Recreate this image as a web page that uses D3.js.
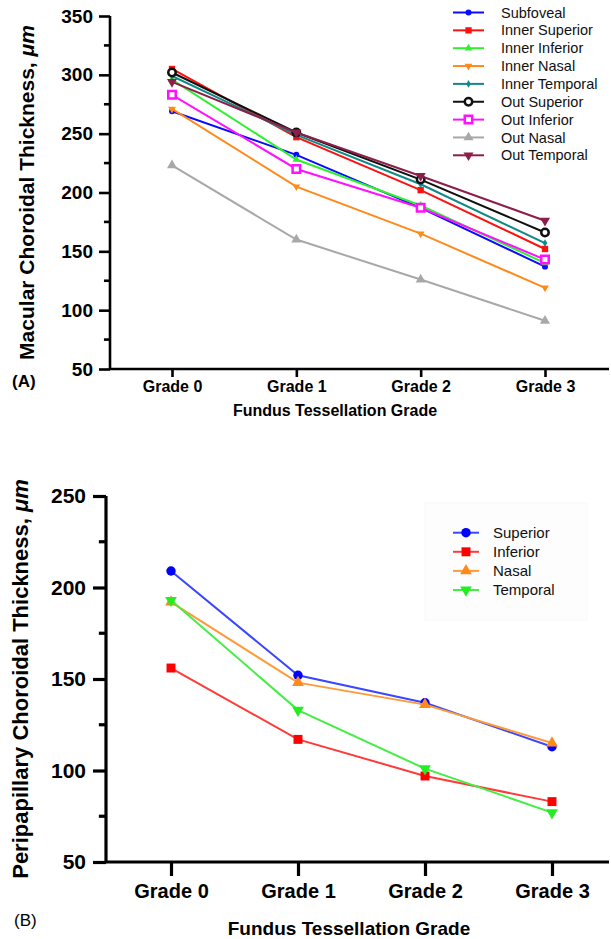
<!DOCTYPE html>
<html>
<head>
<meta charset="utf-8">
<script src="https://cdn.jsdelivr.net/npm/d3@7"></script>
<style>
  body { margin: 0; background: #fff; }
  svg { display: block; font-family: "Liberation Sans", Arial, sans-serif; }
</style>
</head>
<body>
<svg id="chart" width="611" height="939"></svg>
<script>
// x categories
const grades = ["Grade 0", "Grade 1", "Grade 2", "Grade 3"];

// panel A: macular choroidal thickness (um)
const macularNames = ["Subfoveal", "Inner Superior", "Inner Inferior", "Inner Nasal", "Inner Temporal",
                      "Out Superior", "Out Inferior", "Out Nasal", "Out Temporal"];
const subfoveal     = [269, 232, 187, 137];
const innerSuperior = [305, 247, 202, 152];
const innerInferior = [296, 228, 189, 140];
const innerNasal    = [271, 205, 165, 119];
const innerTemporal = [299, 249, 207, 157];
const outSuperior   = [302, 251, 211, 166];
const outInferior   = [283, 220, 187, 143];
const outNasal      = [223, 160, 126, 91];
const outTemporal   = [294, 251, 214, 176];
const macularTicks  = [50, 100, 150, 200, 250, 300, 350];

// panel B: peripapillary choroidal thickness (um)
const periNames   = ["Superior", "Inferior", "Nasal", "Temporal"];
const superior    = [209, 152, 137, 113];
const inferior    = [156, 117, 97, 83];
const nasal       = [192, 148, 136, 115];
const temporal    = [193, 133, 101, 77];
const periTicks   = [50, 100, 150, 200, 250];

let svg = d3.select("#chart");

// marker styles per series
let macularStyle = [
    {color: "#0a0aff", shape: "circle", size: 28, fill: true},
    {color: "#ff1010", shape: "square", size: 40, fill: true},
    {color: "#2ef02e", shape: "up", size: 26, fill: true},
    {color: "#ff8a1c", shape: "down", size: 26, fill: true},
    {color: "#108a88", shape: "diamond", size: 18, fill: true},
    {color: "#101010", shape: "circle", size: 44, fill: false},
    {color: "#ff10ff", shape: "square", size: 56, fill: false},
    {color: "#a8a8a8", shape: "up", size: 44, fill: true},
    {color: "#8c1e4a", shape: "down", size: 44, fill: true}
];
let periStyle = [
    {color: "#0000ff", line: "#3a46ff", shape: "circle", size: 70, fill: true},
    {color: "#ff0000", line: "#ff3a3a", shape: "square", size: 80, fill: true},
    {color: "#ff8a1c", line: "#ff9a3a", shape: "up", size: 60, fill: true},
    {color: "#22ee22", line: "#44ee44", shape: "down", size: 60, fill: true}
];

function symbolPath(st) {
    let type = d3.symbolCircle;
    if (st.shape === "square") type = d3.symbolSquare;
    if (st.shape === "up" || st.shape === "down") type = d3.symbolTriangle;
    if (st.shape === "diamond") type = d3.symbolDiamond;
    return d3.symbol().type(type).size(st.size)();
}

function addMarker(g, st, x, y) {
    let p = g.append("path")
        .attr("d", symbolPath(st))
        .attr("transform", "translate(" + x + "," + y + ")" + (st.shape === "down" ? " rotate(180)" : ""));
    if (st.fill) {
        p.attr("fill", st.color);
    } else {
        p.attr("fill", "#fff").attr("stroke", st.color).attr("stroke-width", 2.5);
    }
}

function drawPanel(opt) {
    let x = d3.scalePoint().domain(grades).range([opt.x0, opt.x1]);
    let y = d3.scaleLinear().domain([opt.ticks[0], opt.ticks[opt.ticks.length - 1]]).range([opt.yBottom, opt.yTop]);

    let g = svg.append("g");

    // series lines + markers
    opt.series.forEach(function(vals, i) {
        let st = opt.styles[i];
        let line = d3.line()
            .x(function(d, j) { return x(grades[j]); })
            .y(function(d) { return y(d); });
        g.append("path")
            .attr("d", line(vals))
            .attr("fill", "none")
            .attr("stroke", st.line || st.color)
            .attr("stroke-width", opt.lineWidth);
        vals.forEach(function(v, j) {
            addMarker(g, st, x(grades[j]), y(v));
        });
    });

    // y axis, with minor ticks half way between majors
    let minor = [];
    for (let i = 0; i < opt.ticks.length - 1; i++) minor.push((opt.ticks[i] + opt.ticks[i + 1]) / 2);
    let yAxis = g.append("g")
        .attr("transform", "translate(" + opt.axisX + ",0)")
        .call(d3.axisLeft(y).tickValues(opt.ticks).tickSize(opt.yTick).tickPadding(opt.yPad).tickSizeOuter(0));
    minor.forEach(function(m) {
        yAxis.append("line").attr("x1", -opt.yTick * 0.55).attr("x2", 0).attr("y1", y(m)).attr("y2", y(m))
            .attr("stroke", "#000").attr("stroke-width", opt.axisWidth);
    });

    // x axis
    let xAxis = g.append("g")
        .attr("transform", "translate(0," + opt.yBottom + ")")
        .call(d3.axisBottom(x).tickSize(opt.xTick).tickPadding(opt.xPad).tickSizeOuter(0));

    [yAxis, xAxis].forEach(function(a) {
        a.select(".domain").attr("stroke", "#000").attr("stroke-width", opt.axisWidth);
        a.selectAll(".tick line").attr("stroke", "#000").attr("stroke-width", opt.axisWidth);
        a.selectAll(".tick text")
            .attr("fill", "#000")
            .style("font-family", "'Liberation Sans', Arial, sans-serif")
            .style("font-weight", "bold");
    });
    xAxis.select(".domain").attr("d", "M" + opt.axisX + ",0H" + opt.axisEnd);
    yAxis.select(".domain").attr("d", "M0," + opt.yBottom + "V" + opt.yTop);
    yAxis.selectAll(".tick text").style("font-size", opt.yTickFont + "px");
    xAxis.selectAll(".tick text").style("font-size", opt.xTickFont + "px");

    // axis titles
    let yt = g.append("text")
        .attr("transform", "translate(" + opt.yTitleX + "," + ((opt.yTop + opt.yBottom) / 2) + ") rotate(-90)")
        .attr("text-anchor", "middle")
        .style("font-size", opt.yTitleFont + "px")
        .style("font-weight", "bold");
    yt.append("tspan").text(opt.yTitle);
    yt.append("tspan").style("font-style", "italic").text("\u03bcm");

    g.append("text")
        .attr("x", opt.xTitleX)
        .attr("y", opt.xTitleY)
        .attr("text-anchor", "middle")
        .style("font-size", opt.xTitleFont + "px")
        .style("font-weight", "bold")
        .text("Fundus Tessellation Grade");

    g.append("text")
        .attr("x", opt.tagX)
        .attr("y", opt.tagY)
        .style("font-size", "17px")
        .style("font-weight", opt.tagBold ? "bold" : "normal")
        .text(opt.tag);

    // legend
    let lg = g.append("g");
    if (opt.legendBox) {
        lg.append("rect")
            .attr("x", opt.legendBox[0]).attr("y", opt.legendBox[1])
            .attr("width", opt.legendBox[2]).attr("height", opt.legendBox[3])
            .attr("fill", "#fdfdfd").attr("stroke", "#f8f8f8");
    }
    opt.names.forEach(function(name, i) {
        let st = opt.styles[i];
        let ly = opt.legendY + i * opt.legendStep;
        lg.append("line")
            .attr("x1", opt.legendX0).attr("x2", opt.legendX1)
            .attr("y1", ly).attr("y2", ly)
            .attr("stroke", st.line || st.color).attr("stroke-width", 2);
        addMarker(lg, st, (opt.legendX0 + opt.legendX1) / 2, ly);
        lg.append("text")
            .attr("x", opt.legendText)
            .attr("y", ly)
            .attr("dy", "0.35em")
            .style("font-size", opt.legendFont + "px")
            .attr("fill", "#111")
            .text(name);
    });
}

drawPanel({
    series: [subfoveal, innerSuperior, innerInferior, innerNasal, innerTemporal,
             outSuperior, outInferior, outNasal, outTemporal],
    names: macularNames,
    styles: macularStyle,
    ticks: macularTicks,
    x0: 172, x1: 545, yTop: 16, yBottom: 369,
    axisX: 110, axisEnd: 609, axisWidth: 2.6,
    lineWidth: 2,
    yTick: 11, xTick: 8,
    yPad: 6, xPad: 4,
    yTickFont: 19, xTickFont: 16,
    yTitle: "Macular Choroidal Thickness, ", yTitleX: 34, yTitleFont: 21,
    xTitleX: 335, xTitleY: 416, xTitleFont: 16,
    tag: "(A)", tagX: 12, tagY: 387, tagBold: true,
    legendX0: 453, legendX1: 484, legendText: 501, legendY: 12.5, legendStep: 17.85, legendFont: 14.5
});

drawPanel({
    series: [superior, inferior, nasal, temporal],
    names: periNames,
    styles: periStyle,
    ticks: periTicks,
    x0: 171, x1: 552, yTop: 496, yBottom: 862,
    axisX: 106, axisEnd: 609, axisWidth: 3.2,
    lineWidth: 2,
    yTick: 13, xTick: 14,
    yPad: 7, xPad: 8,
    yTickFont: 21, xTickFont: 20,
    yTitle: "Peripapillary Choroidal Thickness, ", yTitleX: 28, yTitleFont: 22,
    xTitleX: 349, xTitleY: 935, xTitleFont: 19,
    tag: "(B)", tagX: 14, tagY: 926, tagBold: false,
    legendBox: [425, 503, 162, 117],
    legendX0: 453, legendX1: 479, legendText: 493, legendY: 532.7, legendStep: 19.1, legendFont: 15
});
</script>
</body>
</html>
